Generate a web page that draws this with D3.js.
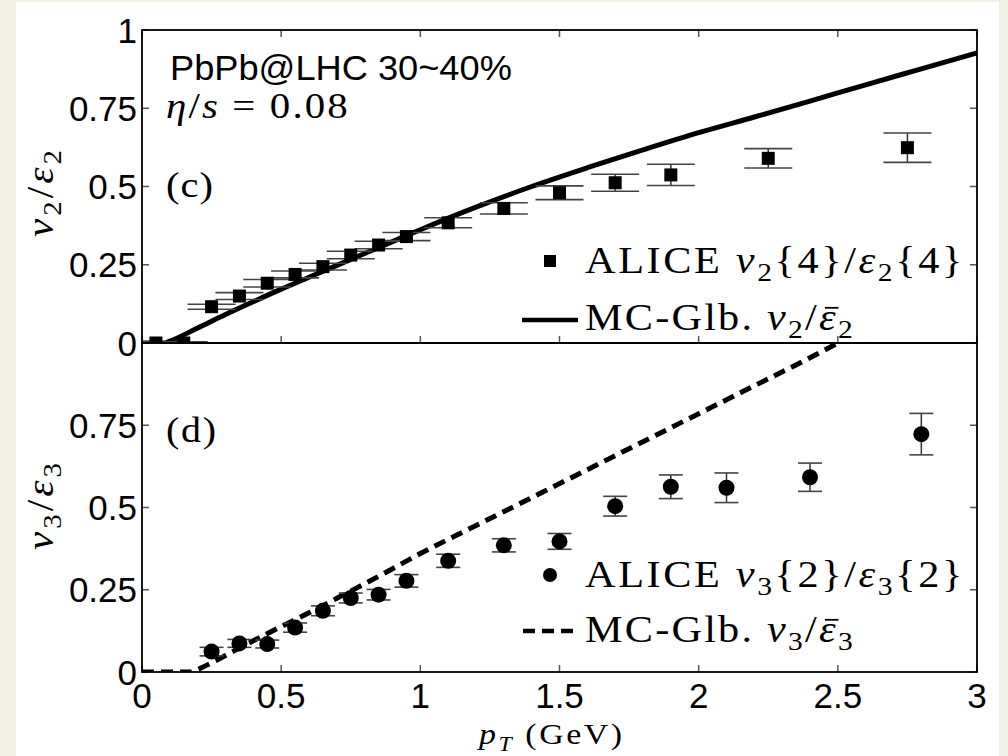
<!DOCTYPE html>
<html><head><meta charset="utf-8">
<script src="https://cdn.jsdelivr.net/npm/d3@7"></script>
<style>body{margin:0;background:#f0f0e6;} svg{display:block;}</style>
</head><body>
<script>
// ---------- data ----------
const xTicks = [0, 0.5, 1, 1.5, 2, 2.5, 3];
const xTickLabels = ["0", "0.5", "1", "1.5", "2", "2.5", "3"];
const yTicks = [0, 0.25, 0.5, 0.75, 1];
const yTickLabelsTop = ["0", "0.25", "0.5", "0.75", "1"];
const yTickLabelsBot = ["0", "0.25", "0.5", "0.75", ""];

// ALICE v2{4}/eps2{4}
const ptV2 = [0.05,0.15,0.25,0.35,0.45,0.55,0.65,0.75,0.85,0.95,1.1,1.3,1.5,1.7,1.9,2.25,2.75];
const v2Ratio = [0,0,0.116,0.150,0.191,0.219,0.244,0.281,0.313,0.340,0.384,0.430,0.480,0.512,0.537,0.590,0.624];
const v2Err = [0.004,0.004,0.008,0.011,0.012,0.011,0.011,0.012,0.012,0.013,0.016,0.018,0.022,0.027,0.034,0.031,0.047];

// ALICE v3{2}/eps3{2}
const ptV3 = [0.25,0.35,0.45,0.55,0.65,0.75,0.85,0.95,1.1,1.3,1.5,1.7,1.9,2.1,2.4,2.8];
const v3Ratio = [0.062,0.087,0.085,0.135,0.186,0.225,0.235,0.277,0.338,0.385,0.397,0.504,0.563,0.560,0.592,0.723];
const v3Err = [0.013,0.012,0.012,0.014,0.015,0.015,0.016,0.019,0.020,0.020,0.024,0.030,0.036,0.045,0.043,0.063];

// MC-Glauber hydro curves
const ptHydro2 = [0,0.08,0.1,0.2,0.3,0.4,0.5,0.6,0.7,0.8,0.9,1.0,1.2,1.4,1.6,1.8,2.0,2.2,2.4,2.6,2.8,3.0];
const v2Hydro = [0,0,0.006,0.048,0.091,0.132,0.172,0.21,0.248,0.286,0.324,0.362,0.434,0.5,0.56,0.617,0.672,0.722,0.773,0.825,0.876,0.927];
const ptHydro3 = [0,0.1,0.17,0.2,0.25,0.3,0.4,0.5,0.6,0.7,0.8,0.9,1.0,1.2,1.4,1.6,1.8,2.0,2.2,2.4,2.5];
const v3Hydro = [0,0,0,0.008,0.028,0.05,0.095,0.138,0.18,0.224,0.268,0.314,0.36,0.445,0.53,0.615,0.7,0.785,0.87,0.955,1.0];

// ---------- layout ----------
const W = 1008, H = 756;
const L = 142, R = 977, T = 30, M = 343, B = 672;
const SANS = "'Liberation Sans', Arial, sans-serif";
const SERIF = "'Liberation Serif', 'Times New Roman', serif";
const TICKFS = 35;

const svg = d3.select("body").append("svg").attr("width", W).attr("height", H);
svg.append("rect").attr("x", 0).attr("y", 0).attr("width", W).attr("height", H).attr("fill", "#f0f0e6");
svg.append("rect").attr("x", 16).attr("y", 2).attr("width", 983).attr("height", H - 2).attr("fill", "#ffffff");

const x = d3.scaleLinear().domain([0, 3]).range([L, R]);
const yTop = d3.scaleLinear().domain([0, 1]).range([M, T]);
const yBot = d3.scaleLinear().domain([0, 1]).range([B, M]);

const defs = svg.append("defs");
defs.append("clipPath").attr("id", "clipTop").append("rect").attr("x", L).attr("y", T).attr("width", R - L).attr("height", M - T);
defs.append("clipPath").attr("id", "clipBot").append("rect").attr("x", L).attr("y", M).attr("width", R - L).attr("height", B - M);

// math text helper: text at local (0,0) inside a group; fitted to a target width
function mathText(segs, size, family) {
  const g = svg.append("g");
  const t = g.append("text").attr("x", 0).attr("y", 0).attr("font-family", family || SERIF)
    .attr("font-size", size).attr("fill", "#000");
  let shifted = false, idx = 0;
  const bars = [];
  segs.forEach(s => {
    const sp = t.append("tspan").text(s.t);
    if (s.i) sp.attr("font-style", "italic");
    if (s.sub) {
      sp.attr("font-size", size * 0.7).attr("dy", shifted ? 0 : size * 0.22);
      shifted = true;
    } else if (shifted) {
      sp.attr("dy", -size * 0.22); shifted = false;
    }
    if (s.bar) bars.push(idx);
    idx += s.t.length;
  });
  return {g, t, size, bars, n: idx};
}
function place(o, x0, y0, targetW, opts) {
  opts = opts || {};
  let w = o.t.node().getBBox().width;
  let sx = 1;
  if (targetW) {
    sx = Math.min(1.15, Math.max(0.9, targetW / w));
    const ls = (targetW / sx - w) / Math.max(1, o.n - 1);
    o.t.attr("letter-spacing", ls);
    w = o.t.node().getBBox().width;
    sx = targetW / w;
  }
  if (opts.anchor === "middle") o.t.attr("x", -w / 2);
  o.bars.forEach(ci => {
    const e = o.t.node().getExtentOfChar(ci);
    o.g.append("line").attr("x1", e.x + o.size * 0.14).attr("x2", e.x + o.size * 0.46)
      .attr("y1", -o.size * 0.6).attr("y2", -o.size * 0.6).attr("stroke", "#000").attr("stroke-width", 1.8);
  });
  o.g.attr("transform", `translate(${x0},${y0})${opts.rotate ? " rotate(" + opts.rotate + ")" : ""} scale(${sx},1)`);
  return o;
}

function panel(yS, clipId, ptsX, ptsY, errs, marker, cap, curveX, curveY, dashed, yLabels, topTicks) {
  const g = svg.append("g");
  const gc = g.append("g").attr("clip-path", `url(#${clipId})`);
  const line = d3.line().x((d, i) => x(curveX[i])).y(d => yS(d)).curve(d3.curveMonotoneX);
  gc.append("path").datum(curveY).attr("d", line).attr("fill", "none").attr("stroke", "#000")
    .attr("stroke-width", 5).attr("stroke-dasharray", dashed ? "12,7" : null);
  ptsX.forEach((px, i) => {
    const cx = x(px), y1 = yS(ptsY[i] + errs[i]), y0 = yS(ptsY[i] - errs[i]);
    gc.append("line").attr("x1", cx).attr("x2", cx).attr("y1", y0).attr("y2", y1).attr("stroke", "#333").attr("stroke-width", 1.5);
    [y0, y1].forEach(yy => gc.append("line").attr("x1", cx - cap).attr("x2", cx + cap).attr("y1", yy).attr("y2", yy)
      .attr("stroke", "#444").attr("stroke-width", 1.6));
  });
  ptsX.forEach((px, i) => {
    const cx = x(px), cy = yS(ptsY[i]);
    if (marker === "square") gc.append("rect").attr("x", cx - 6.5).attr("y", cy - 6.5).attr("width", 13).attr("height", 13).attr("fill", "#000");
    else gc.append("circle").attr("cx", cx).attr("cy", cy).attr("r", 8).attr("fill", "#000");
  });
  const y0p = yS(0), y1p = yS(1);
  const tk = 7;
  xTicks.forEach(v => {
    g.append("line").attr("x1", x(v)).attr("x2", x(v)).attr("y1", y0p).attr("y2", y0p - tk).attr("stroke", "#555").attr("stroke-width", 1.5);
    if (topTicks) g.append("line").attr("x1", x(v)).attr("x2", x(v)).attr("y1", y1p).attr("y2", y1p + tk).attr("stroke", "#555").attr("stroke-width", 1.5);
  });
  yTicks.forEach((v, i) => {
    g.append("line").attr("x1", L).attr("x2", L + tk).attr("y1", yS(v)).attr("y2", yS(v)).attr("stroke", "#555").attr("stroke-width", 1.5);
    g.append("line").attr("x1", R).attr("x2", R - tk).attr("y1", yS(v)).attr("y2", yS(v)).attr("stroke", "#555").attr("stroke-width", 1.5);
    if (yLabels[i]) g.append("text").attr("x", L - 5).attr("y", yS(v)).attr("dy", "0.36em").attr("text-anchor", "end")
      .attr("font-family", SANS).attr("font-size", TICKFS).text(yLabels[i]);
  });
  g.append("rect").attr("x", L).attr("y", y1p).attr("width", R - L).attr("height", y0p - y1p)
    .attr("fill", "none").attr("stroke", "#000").attr("stroke-width", 1.8);
  return g;
}

panel(yTop, "clipTop", ptV2, v2Ratio, v2Err, "square", 24, ptHydro2, v2Hydro, false, yTickLabelsTop, true);
panel(yBot, "clipBot", ptV3, v3Ratio, v3Err, "circle", 12, ptHydro3, v3Hydro, true, yTickLabelsBot, false);

// x tick labels
xTicks.forEach((v, i) => {
  svg.append("text").attr("x", x(v)).attr("y", 708).attr("text-anchor", "middle")
    .attr("font-family", SANS).attr("font-size", TICKFS).text(xTickLabels[i]);
});

// axis titles
place(mathText([{t: "p", i: true}, {t: "T", i: true, sub: true}, {t: " (GeV)"}], 30), 553, 744, 148, {anchor: "middle"});
place(mathText([{t: "v", i: true}, {t: "2", sub: true}, {t: "/"}, {t: "ε", i: true}, {t: "2", sub: true}], 37), 53, 192, 90, {anchor: "middle", rotate: -90});
place(mathText([{t: "v", i: true}, {t: "3", sub: true}, {t: "/"}, {t: "ε", i: true}, {t: "3", sub: true}], 37), 53, 505, 90, {anchor: "middle", rotate: -90});

// annotations
place(mathText([{t: "PbPb@LHC 30~40%"}], 35, SANS), 170, 80, 342);
place(mathText([{t: "η", i: true}, {t: "/"}, {t: "s", i: true}, {t: " = 0.08"}], 36), 166, 118, 184);
place(mathText([{t: "(c)"}], 36), 166, 197, 48);
place(mathText([{t: "(d)"}], 36), 166, 442, 52);

// legends
const lgX = 585;
svg.append("rect").attr("x", 550 - 6).attr("y", 261 - 6).attr("width", 12).attr("height", 12).attr("fill", "#000");
place(mathText([{t: "ALICE "}, {t: "v", i: true}, {t: "2", sub: true}, {t: "{4}/"}, {t: "ε", i: true}, {t: "2", sub: true}, {t: "{4}"}], 37), lgX, 273, 380);
svg.append("line").attr("x1", 522).attr("x2", 578).attr("y1", 320).attr("y2", 320).attr("stroke", "#000").attr("stroke-width", 4.5);
place(mathText([{t: "MC-Glb. "}, {t: "v", i: true}, {t: "2", sub: true}, {t: "/"}, {t: "ε", i: true, bar: true}, {t: "2", sub: true}], 37), lgX, 330, 270);

svg.append("circle").attr("cx", 550).attr("cy", 575).attr("r", 7).attr("fill", "#000");
place(mathText([{t: "ALICE "}, {t: "v", i: true}, {t: "3", sub: true}, {t: "{2}/"}, {t: "ε", i: true}, {t: "3", sub: true}, {t: "{2}"}], 37), lgX, 587, 380);
svg.append("line").attr("x1", 523).attr("x2", 578).attr("y1", 631).attr("y2", 631).attr("stroke", "#000").attr("stroke-width", 4.5).attr("stroke-dasharray", "12,7");
place(mathText([{t: "MC-Glb. "}, {t: "v", i: true}, {t: "3", sub: true}, {t: "/"}, {t: "ε", i: true, bar: true}, {t: "3", sub: true}], 37), lgX, 642, 270);
</script>
</body></html>
